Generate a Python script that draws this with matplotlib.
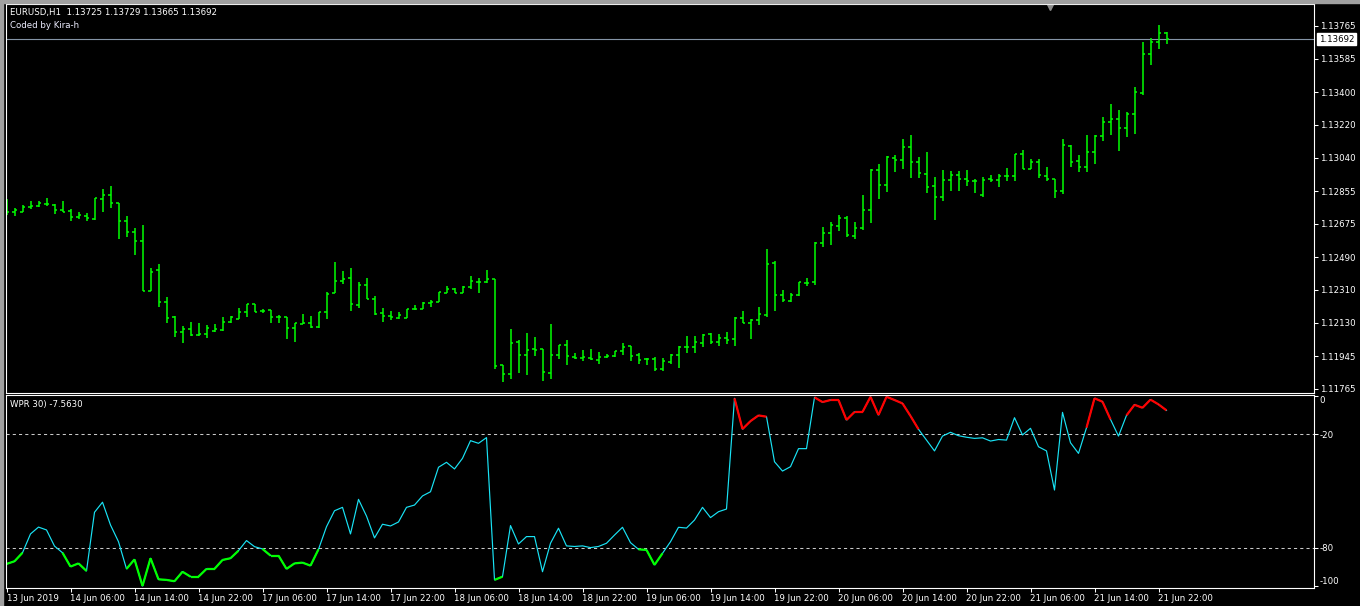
import numpy as np
import matplotlib
matplotlib.use("Agg")
import matplotlib.pyplot as plt
from matplotlib.collections import LineCollection
from matplotlib.patches import Rectangle

# EURUSD H1 bars, 13 Jun 22:00 .. 21 Jun 23:00 (weekend skipped)
opens = [
    1.12800, 1.12740, 1.12740, 1.12767, 1.12773, 1.12784, 1.12778, 1.12751, 1.12745, 1.12712,
    1.12718, 1.12701, 1.12812, 1.12834, 1.12790, 1.12690, 1.12630, 1.12580, 1.12304, 1.12420,
    1.12244, 1.12161, 1.12079, 1.12095, 1.12062, 1.12068, 1.12084, 1.12090, 1.12134, 1.12150,
    1.12189, 1.12233, 1.12194, 1.12200, 1.12161, 1.12161, 1.12101, 1.12123, 1.12128, 1.12106,
    1.12189, 1.12293, 1.12360, 1.12376, 1.12228, 1.12338, 1.12260, 1.12183, 1.12167, 1.12156,
    1.12156, 1.12206, 1.12206, 1.12239, 1.12244, 1.12293, 1.12315, 1.12293, 1.12326, 1.12354,
    1.12354, 1.12371, 1.11897, 1.11847, 1.12024, 1.11952, 1.11985, 1.11985, 1.11852, 1.11952,
    1.12007, 1.11941, 1.11935, 1.11935, 1.11924, 1.11941, 1.11946, 1.11974, 1.12002, 1.11952,
    1.11930, 1.11930, 1.11875, 1.11913, 1.11952, 1.11996, 1.11996, 1.12018, 1.12068, 1.12024,
    1.12046, 1.12040, 1.12156, 1.12128, 1.12145, 1.12172, 1.12459, 1.12282, 1.12250, 1.12282,
    1.12349, 1.12354, 1.12569, 1.12624, 1.12663, 1.12707, 1.12608, 1.12652, 1.12751, 1.12971,
    1.12888, 1.13037, 1.13026, 1.13098, 1.13015, 1.12949, 1.12883, 1.12823, 1.12916, 1.12944,
    1.12922, 1.12911, 1.12834, 1.12922, 1.12916, 1.12938, 1.12938, 1.13059, 1.12977, 1.13015,
    1.12938, 1.12922, 1.12856, 1.13104, 1.13021, 1.12988, 1.13070, 1.13159, 1.13236, 1.13252,
    1.13203, 1.13280, 1.13396, 1.13610, 1.13677, 1.13725,
]
highs = [
    1.12812, 1.12762, 1.12778, 1.12800, 1.12800, 1.12817, 1.12784, 1.12800, 1.12756, 1.12740,
    1.12734, 1.12817, 1.12867, 1.12883, 1.12790, 1.12718, 1.12652, 1.12669, 1.12431, 1.12453,
    1.12272, 1.12167, 1.12112, 1.12134, 1.12128, 1.12117, 1.12123, 1.12161, 1.12167, 1.12211,
    1.12233, 1.12233, 1.12206, 1.12200, 1.12172, 1.12161, 1.12128, 1.12178, 1.12167, 1.12189,
    1.12299, 1.12464, 1.12414, 1.12431, 1.12354, 1.12376, 1.12277, 1.12211, 1.12194, 1.12189,
    1.12206, 1.12228, 1.12244, 1.12255, 1.12299, 1.12332, 1.12321, 1.12332, 1.12387, 1.12376,
    1.12420, 1.12371, 1.11897, 1.12095, 1.12035, 1.12073, 1.12051, 1.11985, 1.12123, 1.12007,
    1.12035, 1.11963, 1.11980, 1.11985, 1.11968, 1.11957, 1.11974, 1.12018, 1.12002, 1.11963,
    1.11935, 1.11941, 1.11935, 1.11957, 1.12002, 1.12057, 1.12057, 1.12068, 1.12073, 1.12068,
    1.12079, 1.12161, 1.12194, 1.12150, 1.12217, 1.12536, 1.12470, 1.12310, 1.12293, 1.12354,
    1.12376, 1.12575, 1.12657, 1.12685, 1.12723, 1.12718, 1.12685, 1.12834, 1.12977, 1.13004,
    1.13048, 1.13054, 1.13142, 1.13164, 1.13043, 1.13070, 1.12933, 1.12971, 1.12966, 1.12966,
    1.12971, 1.12922, 1.12933, 1.12944, 1.12949, 1.12982, 1.13059, 1.13082, 1.13032, 1.13032,
    1.12988, 1.12922, 1.13142, 1.13109, 1.13054, 1.13164, 1.13164, 1.13263, 1.13335, 1.13302,
    1.13291, 1.13429, 1.13677, 1.13699, 1.13770, 1.13729,
]
lows = [
    1.12723, 1.12718, 1.12740, 1.12756, 1.12767, 1.12773, 1.12729, 1.12740, 1.12690, 1.12701,
    1.12690, 1.12696, 1.12740, 1.12762, 1.12591, 1.12603, 1.12503, 1.12304, 1.12304, 1.12217,
    1.12128, 1.12051, 1.12018, 1.12057, 1.12057, 1.12046, 1.12079, 1.12084, 1.12128, 1.12150,
    1.12161, 1.12189, 1.12183, 1.12128, 1.12128, 1.12040, 1.12024, 1.12123, 1.12101, 1.12101,
    1.12150, 1.12293, 1.12343, 1.12194, 1.12211, 1.12261, 1.12172, 1.12134, 1.12145, 1.12150,
    1.12156, 1.12200, 1.12206, 1.12217, 1.12244, 1.12293, 1.12293, 1.12293, 1.12315, 1.12293,
    1.12349, 1.11875, 1.11803, 1.11819, 1.11852, 1.11841, 1.11946, 1.11808, 1.11819, 1.11930,
    1.11897, 1.11930, 1.11919, 1.11924, 1.11902, 1.11935, 1.11941, 1.11952, 1.11919, 1.11902,
    1.11897, 1.11864, 1.11864, 1.11902, 1.11880, 1.11963, 1.11963, 1.11996, 1.12013, 1.12002,
    1.12013, 1.12002, 1.12128, 1.12040, 1.12117, 1.12161, 1.12194, 1.12244, 1.12244, 1.12277,
    1.12332, 1.12338, 1.12547, 1.12558, 1.12635, 1.12602, 1.12591, 1.12641, 1.12679, 1.12812,
    1.12850, 1.12960, 1.12977, 1.12927, 1.12927, 1.12845, 1.12696, 1.12800, 1.12856, 1.12856,
    1.12883, 1.12845, 1.12823, 1.12905, 1.12878, 1.12911, 1.12911, 1.12977, 1.12977, 1.12927,
    1.12911, 1.12817, 1.12839, 1.12988, 1.12960, 1.12960, 1.13004, 1.13131, 1.13164, 1.13076,
    1.13153, 1.13170, 1.13385, 1.13550, 1.13638, 1.13665,
]
closes = [
    1.12740, 1.12751, 1.12767, 1.12773, 1.12790, 1.12784, 1.12751, 1.12740, 1.12712, 1.12723,
    1.12707, 1.12817, 1.12834, 1.12790, 1.12690, 1.12630, 1.12580, 1.12304, 1.12409, 1.12244,
    1.12156, 1.12079, 1.12095, 1.12062, 1.12068, 1.12101, 1.12095, 1.12134, 1.12161, 1.12189,
    1.12233, 1.12189, 1.12194, 1.12161, 1.12161, 1.12101, 1.12128, 1.12128, 1.12106, 1.12189,
    1.12288, 1.12360, 1.12370, 1.12233, 1.12338, 1.12260, 1.12178, 1.12167, 1.12161, 1.12172,
    1.12206, 1.12206, 1.12239, 1.12244, 1.12299, 1.12315, 1.12293, 1.12326, 1.12360, 1.12354,
    1.12371, 1.11891, 1.11847, 1.12018, 1.11952, 1.11980, 1.11980, 1.11858, 1.11952, 1.12007,
    1.11946, 1.11935, 1.11941, 1.11930, 1.11941, 1.11946, 1.11974, 1.11996, 1.11946, 1.11924,
    1.11930, 1.11875, 1.11919, 1.11952, 1.11996, 1.11996, 1.12024, 1.12062, 1.12024, 1.12046,
    1.12035, 1.12156, 1.12128, 1.12145, 1.12178, 1.12453, 1.12282, 1.12255, 1.12282, 1.12354,
    1.12349, 1.12569, 1.12624, 1.12669, 1.12707, 1.12613, 1.12652, 1.12751, 1.12971, 1.12888,
    1.13043, 1.13026, 1.13098, 1.13015, 1.12955, 1.12878, 1.12823, 1.12916, 1.12944, 1.12922,
    1.12911, 1.12911, 1.12916, 1.12916, 1.12938, 1.12938, 1.13059, 1.12977, 1.13015, 1.12944,
    1.12922, 1.12856, 1.13109, 1.13015, 1.12988, 1.13070, 1.13159, 1.13236, 1.13252, 1.13203,
    1.13280, 1.13401, 1.13610, 1.13677, 1.13726, 1.13692,
]

# Williams %R (30)
wpr = [
    -88.4, -87.0, -82.5, -72.6, -69.0, -70.5, -79.0, -82.5, -89.8, -88.1,
    -92.1, -61.2, -55.9, -67.9, -76.7, -91.0, -86.0, -100.0, -85.4, -96.5,
    -96.8, -97.5, -92.5, -95.1, -95.1, -91.0, -91.0, -86.3, -85.4, -81.4,
    -76.1, -79.3, -80.5, -84.0, -84.0, -91.0, -88.1, -87.7, -89.3, -80.7,
    -68.8, -60.4, -58.6, -72.6, -54.4, -63.2, -74.7, -67.5, -68.4, -66.3,
    -58.6, -57.4, -52.6, -50.4, -37.5, -34.9, -38.4, -32.8, -23.5, -24.9,
    -21.9, -96.8, -95.1, -68.2, -77.9, -74.0, -74.0, -92.5, -77.5, -69.6,
    -78.9, -79.2, -78.9, -79.8, -79.2, -77.5, -73.2, -69.1, -77.2, -80.7,
    -81.0, -88.9, -82.8, -76.7, -69.1, -69.5, -65.3, -58.6, -64.0, -60.9,
    -59.5, -1.2, -17.4, -13.2, -10.2, -10.9, -34.6, -39.5, -37.2, -27.7,
    -27.7, -0.7, -3.2, -2.1, -2.1, -12.6, -8.4, -8.4, -0.4, -10.0,
    -0.4, -2.1, -3.9, -10.5, -17.5, -23.2, -28.9, -21.1, -19.1, -20.9,
    -21.7, -22.3, -22.0, -23.7, -22.9, -23.2, -11.4, -20.5, -17.0, -26.7,
    -28.9, -49.5, -8.6, -24.6, -30.2, -16.7, -1.2, -3.0, -12.3, -21.1,
    -10.2, -4.6, -6.2, -1.9, -4.4, -7.563,
]

price_ticks = [1.13765, 1.13585, 1.13400, 1.13220, 1.13040, 1.12855, 1.12675,
               1.12490, 1.12310, 1.12130, 1.11945, 1.11765]
wpr_ticks = [0, -20, -80, -100]
wpr_levels = [-20, -80]
time_labels = ["13 Jun 2019", "14 Jun 06:00", "14 Jun 14:00", "14 Jun 22:00",
               "17 Jun 06:00", "17 Jun 14:00", "17 Jun 22:00", "18 Jun 06:00",
               "18 Jun 14:00", "18 Jun 22:00", "19 Jun 06:00", "19 Jun 14:00",
               "19 Jun 22:00", "20 Jun 06:00", "20 Jun 14:00", "20 Jun 22:00",
               "21 Jun 06:00", "21 Jun 14:00", "21 Jun 22:00"]
label_step = 8

W, H = 1360, 606
FONT = "DejaVu Sans"
FS = 6.2
BAR_COLOR = "#00ff00"
CYAN = "#19e3f5"


def px_rect(left, top, right, bottom):
    return [left / W, 1 - bottom / H, (right - left) / W, (bottom - top) / H]


fig = plt.figure(figsize=(W / 100, H / 100), dpi=100, facecolor="black")

ax = fig.add_axes(px_rect(5.5, 4, 1313.5, 392.5))
axw = fig.add_axes(px_rect(5.5, 394.5, 1313.5, 587.5))

n = len(closes)
x = np.arange(n)
xlim = (-0.125, -0.125 + 1308 / 8)

for a in (ax, axw):
    a.set_facecolor("black")
    a.set_xlim(*xlim)
    for s in a.spines.values():
        s.set_color("white")
        s.set_linewidth(0.8)
    a.yaxis.tick_right()
    a.tick_params(axis="y", direction="out", length=3, width=0.75, colors="white",
                  labelsize=FS, pad=1.5)

# --- price bars (OHLC) ---
tick = 0.34
segs = []
for i in range(n):
    segs.append([(x[i], lows[i]), (x[i], highs[i])])
    segs.append([(x[i] - tick, opens[i]), (x[i], opens[i])])
    segs.append([(x[i], closes[i]), (x[i] + tick, closes[i])])
ax.add_collection(LineCollection(segs, colors=BAR_COLOR, linewidths=1.1))
ax.set_ylim(1.11745, 1.13886)
ax.axhline(closes[-1], color="#8494a6", lw=0.8, zorder=0)

ax.set_yticks(price_ticks)
ax.set_yticklabels([f"{v:.5f}" for v in price_ticks], family=FONT)
ax.tick_params(axis="x", bottom=False, labelbottom=False)

ax.annotate(f"{closes[-1]:.5f}", xy=(1, closes[-1]), xycoords=("axes fraction", "data"),
            xytext=(5.5, 0), textcoords="offset pixels", ha="left", va="center",
            fontsize=FS, family=FONT, color="black",
            bbox=dict(boxstyle="square,pad=0.2", fc="white", ec="white"))

# chart shift marker
ax.plot([(1050 - 5.5) / 1308], [1 - 2.5 / 388.5], marker="v", ms=5, color="#8c8c8c",
        transform=ax.transAxes, clip_on=False)

# --- WPR panel ---
axw.set_ylim(-100.8, 0.8)
for lv in wpr_levels:
    axw.axhline(lv, color="#c8c8c8", lw=0.75, dashes=(3, 3))
axw.plot(x, wpr, color=CYAN, lw=0.85)

red, green = [], []
for i in range(n - 1):
    seg = [(x[i], wpr[i]), (x[i + 1], wpr[i + 1])]
    if wpr[i] > -20 and wpr[i + 1] > -20:
        red.append(seg)
    elif wpr[i] < -80 and wpr[i + 1] < -80:
        green.append(seg)
axw.add_collection(LineCollection(red, colors="#ff0000", linewidths=1.6))
axw.add_collection(LineCollection(green, colors="#00ff00", linewidths=1.6))

axw.set_yticks(wpr_ticks)
ylabs = axw.set_yticklabels([str(v) for v in wpr_ticks], family=FONT)
ylabs[0].set_va("top")
ylabs[-1].set_va("bottom")

tick_pos = list(range(0, n, label_step))[:len(time_labels)]
axw.set_xticks(tick_pos)
xlabs = axw.set_xticklabels(time_labels, family=FONT)
for t in xlabs:
    t.set_ha("left")
axw.tick_params(axis="x", direction="out", length=3, width=0.75, colors="white",
                labelsize=FS, pad=1.5)

# --- headers ---
fig.text(10 / W, 1 - 12.5 / H, "EURUSD,H1  1.13725 1.13729 1.13665 1.13692",
         color="white", fontsize=FS, family=FONT, va="center")
fig.text(10 / W, 1 - 25.5 / H, "Coded by Kira-h", color="#ececff",
         fontsize=FS, family=FONT, va="center")
fig.text(10 / W, 1 - 404 / H, f"WPR 30) {wpr[-1]:.4f}", color="white",
         fontsize=FS, family=FONT, va="center")

# window border
fig.patches.append(Rectangle((0, 1 - 2.5 / H), 1, 2.5 / H, transform=fig.transFigure,
                             color="#a0a0a0", zorder=0))
fig.patches.append(Rectangle((0, 0), 3 / W, 1, transform=fig.transFigure,
                             color="#a0a0a0", zorder=0))

fig.savefig("out.png", dpi=100, facecolor="black")
